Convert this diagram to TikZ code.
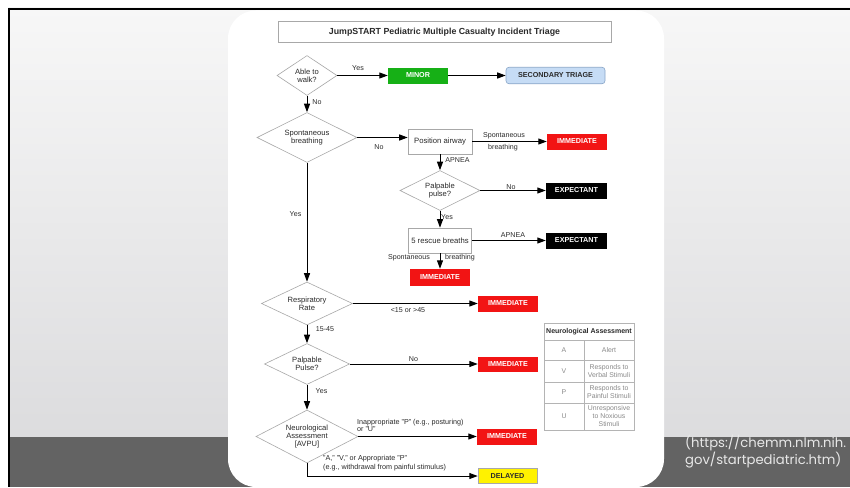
\documentclass[tikz,border=0pt]{standalone}
\usepackage{fontspec}
\setmainfont{Liberation Sans}
\newfontfamily\citfont{Poppins}
\usetikzlibrary{shapes.geometric,arrows.meta}
\definecolor{bgtop}{HTML}{F7F7F7}
\definecolor{bgbot}{HTML}{DCDCDE}
\definecolor{band}{HTML}{636363}
\definecolor{diagray}{HTML}{A8A8A8}
\definecolor{txt}{HTML}{2A2A2A}
\definecolor{minorgreen}{HTML}{16B016}
\definecolor{immred}{HTML}{F21414}
\definecolor{secblue}{HTML}{C6DCF5}
\definecolor{secedge}{HTML}{8AA6C8}
\definecolor{tblline}{HTML}{B4B4B4}
\definecolor{tbltxt}{HTML}{8A8A8A}
\definecolor{cittxt}{HTML}{E8E8E8}
\newcommand\fsz[1]{\fontsize{#1}{#1}\selectfont}
\begin{document}
\begin{tikzpicture}[x=1pt,y=-1pt,
  dia/.style={diamond,draw=diagray,line width=0.6pt,fill=white,inner sep=0pt,shape aspect=2,align=center,text=txt,font=\fsz{7.6}},
  pbox/.style={rectangle,draw=diagray,line width=0.6pt,fill=white,inner sep=0pt,align=center,text=txt,font=\fsz{7.7}},
  tag/.style={rectangle,inner sep=0pt,font=\bfseries\fsz{7.2},text=white,minimum width=60pt,minimum height=16pt},
  lbl/.style={inner sep=0pt,font=\fsz{7.1},text=txt,align=center},
  conn/.style={line width=1pt,draw=black,-{Triangle[length=8.5pt,width=6pt]}},
  cell/.style={inner sep=0pt,font=\fontsize{6.9}{8}\selectfont,text=tbltxt,align=center}
  ]
\useasboundingbox (0,0) rectangle (850,487);
% background
\fill[white] (0,0) rectangle (850,487);
\shade[top color=bgtop,bottom color=bgbot] (8,8) rectangle (850,437);
\fill[band] (8,437) rectangle (850,487);
\draw[black,line width=2.6pt] (8,9) -- (850,9);
\draw[black,line width=2.2pt] (9,8) -- (9,487);
% white panel
\fill[white,rounded corners=28pt] (228,10.5) rectangle (664,487);

% title
\node[pbox,minimum width=333pt,minimum height=20.6pt,font=\bfseries\fsz{8.8}] (title) at (444.5,32) {JumpSTART Pediatric Multiple Casualty Incident Triage};

% nodes
\node[dia,minimum width=60pt,minimum height=40pt] (walk) at (307,75.5) {Able to\\walk?};
\node[tag,fill=minorgreen] (minor) at (418,75.5) {MINOR};
\node[rectangle,rounded corners=3pt,draw=secedge,fill=secblue,line width=0.6pt,minimum width=99pt,minimum height=16.5pt,font=\bfseries\fsz{7.2},text=txt] (sec) at (555.5,75.5) {SECONDARY TRIAGE};

\node[dia,minimum width=100pt,minimum height=50pt] (spont) at (307,137.5) {Spontaneous\\breathing};
\node[pbox,minimum width=64pt,minimum height=25pt] (pos) at (440,141.5) {Position airway};
\node[tag,fill=immred] (imm1) at (577,141.5) {IMMEDIATE};

\node[dia,minimum width=80pt,minimum height=40pt] (pulse1) at (440,190.5) {Palpable\\pulse?};
\node[tag,fill=black,minimum width=61pt] (exp1) at (576.5,190.5) {EXPECTANT};

\node[pbox,minimum width=63pt,minimum height=25pt] (resc) at (440,240.5) {5 rescue breaths};
\node[tag,fill=black,minimum width=61pt] (exp2) at (576.5,240.5) {EXPECTANT};
\node[tag,fill=immred,minimum height=17pt] (imm2) at (440,277.5) {IMMEDIATE};

\node[dia,minimum width=91pt,minimum height=43pt] (resp) at (307,303.5) {Respiratory\\Rate};
\node[tag,fill=immred] (imm3) at (508,303.5) {IMMEDIATE};

\node[dia,minimum width=85pt,minimum height=41pt] (pulse2) at (307,364) {Palpable\\Pulse?};
\node[tag,fill=immred,minimum height=15pt] (imm4) at (508,364.5) {IMMEDIATE};

\node[dia,minimum width=102pt,minimum height=53pt] (neuro) at (307,436.5) {Neurological\\Assessment\\{[AVPU]}};
\node[tag,fill=immred] (imm5) at (507,436.5) {IMMEDIATE};
\node[tag,fill=yellow,draw=diagray,line width=0.5pt,text=txt,minimum width=59pt,minimum height=15pt] (delayed) at (507.5,476) {DELAYED};

% connectors
\draw[conn] (walk.east) -- (minor.west);
\draw[conn] (minor.east) -- (sec.west);
\draw[conn] (walk.south) -- (spont.north);
\draw[conn] (spont.east) -- (spont.east -| pos.west);
\draw[conn] (pos.east) -- (imm1.west);
\draw[conn] (pos.south) -- (pulse1.north);
\draw[conn] (pulse1.east) -- (exp1.west);
\draw[conn] (pulse1.south) -- (resc.north);
\draw[conn] (resc.east) -- (exp2.west);
\draw[conn] (resc.south) -- (imm2.north);
\draw[conn] (spont.south) -- (resp.north);
\draw[conn] (resp.east) -- (imm3.west);
\draw[conn] (resp.south) -- (pulse2.north);
\draw[conn] (pulse2.east) -- (pulse2.east -| imm4.west);
\draw[conn] (pulse2.south) -- (neuro.north);
\draw[conn] (neuro.east) -- (neuro.east -| imm5.west);
\draw[conn] (neuro.south) |- (delayed.west);

% connector labels
\node[lbl] (l1) at (358,68.5) {Yes};
\node[lbl] (l2) at (317,102) {No};
\node[lbl] (l3) at (379,147) {No};
\node[lbl] (l4) at (504,135.5) {Spontaneous};
\node[lbl] (l5) at (503,148) {breathing};
\node[lbl] (l6) at (457.5,160) {APNEA};
\node[lbl] (l7) at (511,187.5) {No};
\node[lbl] (l8) at (447,217) {Yes};
\node[lbl] (l9) at (513,235) {APNEA};
\node[lbl] (l10) at (409,258) {Spontaneous};
\node[lbl] (l11) at (460,258) {breathing};
\node[lbl] (l12) at (295.5,214) {Yes};
\node[lbl] (l13) at (408,310) {<15 or >45};
\node[lbl] (l14) at (325,329) {15-45};
\node[lbl] (l15) at (413.5,359) {No};
\node[lbl] (l16) at (321.5,391) {Yes};
\node[lbl,anchor=west,align=left,font=\fontsize{7.2}{6.6}\selectfont] (l17) at (357,425.5) {Inappropriate "P" (e.g., posturing)\\or "U"};
\node[lbl,anchor=west,align=left,font=\fontsize{7.2}{9}\selectfont] (l18) at (323,462.8) {"A," "V," or Appropriate "P"\\(e.g., withdrawal from painful stimulus)};

% table
\draw[tblline,line width=0.6pt] (544,323) rectangle (634,430);
\foreach \yy in {340,360,382,403} \draw[tblline,line width=0.6pt] (544,\yy) -- (634,\yy);
\draw[tblline,line width=0.6pt] (584,340) -- (584,430);
\node[cell,font=\bfseries\fsz{7},text=txt] (th) at (589,331.5) {Neurological Assessment};
\node[cell] (ta) at (564,350) {A};
\node[cell] (tad) at (609,350) {Alert};
\node[cell] (tv) at (564,371) {V};
\node[cell] (tvd) at (609,371) {Responds to\\Verbal Stimuli};
\node[cell] (tp) at (564,392.5) {P};
\node[cell] (tpd) at (609,392.5) {Responds to\\Painful Stimuli};
\node[cell] (tu) at (564,416.5) {U};
\node[cell] (tud) at (609,416.5) {Unresponsive\\to Noxious\\Stimuli};

% citation
\node[anchor=west,align=left,inner sep=0pt,text=cittxt,font=\citfont\fontsize{13.2}{17}\selectfont] (cit) at (685,451.5) {(https://chemm.nlm.nih.\\gov/startpediatric.htm)};
\end{tikzpicture}
\end{document}
